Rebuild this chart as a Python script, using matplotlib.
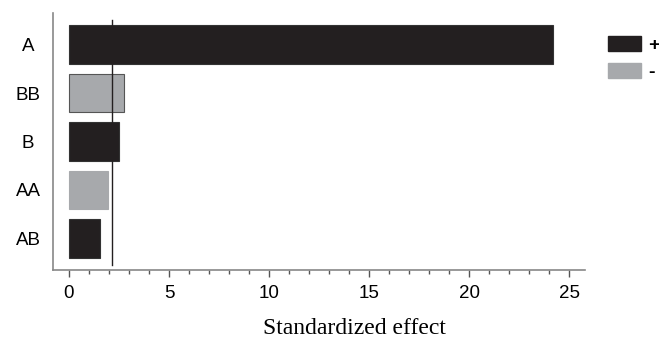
import matplotlib
matplotlib.use('Agg')
import matplotlib.pyplot as plt
from matplotlib.patches import Patch
from matplotlib.ticker import MultipleLocator

# data
terms = ['A', 'BB', 'B', 'AA', 'AB']
effects = [24.2, 2.75, 2.48, 1.97, 1.57]
signs = ['+', '-', '+', '-', '+']
threshold = 2.15

black = '#231f20'
gray = '#a7a9ac'
colors = [black if s == '+' else gray for s in signs]
edges = ['#333333', '#555555', '#333333', gray, '#333333']

fig = plt.figure(figsize=(6.59, 3.40), dpi=100)
ax = fig.add_axes([53/659, 70/340, (585-53)/659, (270-13)/340])

ypos = list(range(len(terms)))
ax.barh(ypos, effects, height=0.8, color=colors, edgecolor=edges, linewidth=0.8)
ax.plot([threshold, threshold], [-0.5, 4.55], color=black, linewidth=1.0)

ax.set_ylim(4.65, -0.65)
ax.set_xlim(-0.8, 25.8)
ax.set_yticks(ypos)
ax.set_yticklabels(terms, fontsize=13.5, family='Liberation Sans', ha='center')
ax.tick_params(axis='y', length=0, pad=18)

ax.set_xticks([0, 5, 10, 15, 20, 25])
ax.xaxis.set_minor_locator(MultipleLocator(1))
ax.tick_params(axis='x', which='major', length=5, width=1, color='#555555', labelsize=13.5, pad=6)
ax.tick_params(axis='x', which='minor', length=3, width=1, color='#555555')
for lbl in ax.get_xticklabels():
    lbl.set_family('Liberation Sans')

ax.set_xlabel('Standardized effect', fontsize=17, family='Liberation Serif')
ax.xaxis.set_label_coords(0.566, -(334 - 270) / 257, transform=ax.transAxes)
ax.xaxis.label.set_verticalalignment('baseline')

for side in ['top', 'right']:
    ax.spines[side].set_visible(False)
for side in ['left', 'bottom']:
    ax.spines[side].set_color('#888888')
    ax.spines[side].set_linewidth(1.2)

handles = [Patch(facecolor=black, edgecolor=black), Patch(facecolor=gray, edgecolor=gray)]
fig.legend(handles, ['+', '-'], loc='upper left', bbox_to_anchor=(600/659, 1 - 28/340),
           frameon=False, handlelength=1.7, handleheight=0.8, handletextpad=0.4,
           labelspacing=0.45, borderaxespad=0, borderpad=0.4,
           prop={'family': 'Liberation Sans', 'weight': 'bold', 'size': 14})

fig.savefig('out.png', dpi=100)
